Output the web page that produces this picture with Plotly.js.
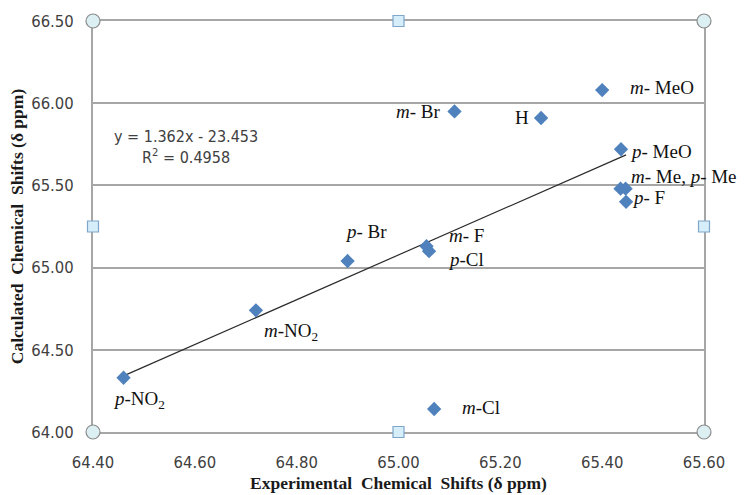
<!DOCTYPE html>
<html>
<head>
<meta charset="utf-8">
<script src="https://cdn.plot.ly/plotly-3.0.1.min.js"></script>
<style>html,body{margin:0;padding:0;background:#fff;}#chart{width:744px;height:495px;}</style>
</head>
<body>
<div id="chart"></div>
<script>
// ---- data ----
const substituents = ['p-NO2','m-NO2','p-Br','m-F','p-Cl','m-Cl','m-Br','H','m-MeO','p-MeO','m-Me','p-Me','p-F'];
const expShift  = [64.46, 64.72, 64.90, 65.055, 65.06, 65.07, 65.11, 65.28, 65.40, 65.437, 65.436, 65.446, 65.447];
const calcShift = [64.33, 64.74, 65.04, 65.13, 65.10, 64.14, 65.95, 65.91, 66.08, 65.72, 65.48, 65.48, 65.40];
const pointLabels = ['<i>p</i>-NO<sub>2</sub>','<i>m</i>-NO<sub>2</sub>','<i>p</i>- Br','<i>m</i>- F','<i>p</i>-Cl','<i>m</i>-Cl',
  '<i>m</i>- Br','H','<i>m</i>- MeO','<i>p</i>- MeO','<i>m</i>- Me, <i>p</i>- Me','','<i>p</i>- F'];
const xTickVals = [64.40, 64.60, 64.80, 65.00, 65.20, 65.40, 65.60];
const xTickText = ['64.40','64.60','64.80','65.00','65.20','65.40','65.60'];
const yTickVals = [64.00, 64.50, 65.00, 65.50, 66.00, 66.50];
const yTickText = ['64.00','64.50','65.00','65.50','66.00','66.50'];
const fitSlope = 1.362;
const fitIntercept = -23.453;
const fitR2 = 0.4958;

// ---- label placement (pixel offsets from each point) ----
const labelPlacement = [
  {anchor:'left',  dx:-13, dy:-22},
  {anchor:'left',  dx:6,   dy:-22},
  {anchor:'left',  dx:-5,  dy:30},
  {anchor:'left',  dx:20,  dy:11},
  {anchor:'left',  dx:17,  dy:-8},
  {anchor:'left',  dx:26,  dy:1},
  {anchor:'right', dx:-13, dy:0},
  {anchor:'right', dx:-10, dy:1},
  {anchor:'left',  dx:26,  dy:3},
  {anchor:'left',  dx:7,   dy:-2},
  {anchor:'left',  dx:8,   dy:12},
  {anchor:'left',  dx:0,   dy:0},
  {anchor:'left',  dx:4,   dy:4}
];

const xMin = Math.min(...expShift), xMax = Math.max(...expShift);
const fitX = [xMin, xMax];
const fitY = fitX.map(v => fitSlope * v + fitIntercept);

const traces = [
  {x: fitX, y: fitY, mode:'lines', type:'scatter', line:{color:'#2b2b2b', width:1.2}, hoverinfo:'skip', showlegend:false},
  {x: expShift, y: calcShift, mode:'markers', type:'scatter', text: substituents,
   marker:{symbol:'diamond', size:11, color:'#4f81bd'}, showlegend:false}
];

const annotations = pointLabels.map((t, i) => ({
  x: expShift[i], y: calcShift[i], xref:'x', yref:'y', text: t, showarrow:false,
  xanchor: labelPlacement[i].anchor, yanchor:'middle',
  xshift: labelPlacement[i].dx, yshift: labelPlacement[i].dy,
  font:{family:'Liberation Serif, Times New Roman, serif', size:19, color:'#111'}
})).filter(a => a.text !== '');

annotations.push({
  xref:'paper', yref:'paper', x:0.1514, y:0.693, xanchor:'center', yanchor:'middle', align:'center',
  showarrow:false,
  text: 'y = ' + fitSlope.toFixed(3) + 'x - ' + Math.abs(fitIntercept).toFixed(3) + '<br>R<sup>2</sup> = ' + fitR2.toFixed(4),
  font:{family:'DejaVu Sans Condensed, DejaVu Sans, sans-serif', size:16, color:'#404040'}
});

// selection-style handles on frame
const shapes = [];
const corners = [[0,0],[1,0],[0,1],[1,1]];
const mids = [[0.5,0],[0.5,1],[0,0.5],[1,0.5]];
corners.forEach(([px,py]) => shapes.push({type:'circle', xref:'paper', yref:'paper', xsizemode:'pixel', ysizemode:'pixel',
  xanchor:px, yanchor:py, x0:-7, x1:7, y0:-7, y1:7, fillcolor:'#dcf0f4', line:{color:'#8c8c8c', width:1.2}}));
mids.forEach(([px,py]) => shapes.push({type:'rect', xref:'paper', yref:'paper', xsizemode:'pixel', ysizemode:'pixel',
  xanchor:px, yanchor:py, x0:-5.5, x1:5.5, y0:-5.5, y1:5.5, fillcolor:'#d6eefa', line:{color:'#7fa6c8', width:1.2}}));

const layout = {
  width:744, height:495,
  margin:{l:93, r:40, t:21, b:63},
  paper_bgcolor:'#fff', plot_bgcolor:'#fff',
  showlegend:false,
  xaxis:{range:[64.40,65.60], tickvals:xTickVals, ticktext:xTickText, showgrid:false, zeroline:false,
    showline:true, mirror:true, linecolor:'#a6a6a6', linewidth:2, ticks:'', ticklabelstandoff:14,
    tickfont:{family:'DejaVu Sans Condensed, DejaVu Sans, sans-serif', size:16.5, color:'#404040'},
    title:{text:'Experimental  Chemical  Shifts (δ ppm)', standoff:6,
      font:{family:'Liberation Serif, Times New Roman, serif', size:17.5, color:'#1a1a1a', weight:'bold'}}},
  yaxis:{range:[64.00,66.50], tickvals:yTickVals, ticktext:yTickText, showgrid:true, gridcolor:'#a6a6a6', gridwidth:2,
    zeroline:false, showline:true, mirror:true, linecolor:'#a6a6a6', linewidth:2, ticks:'', ticklabelstandoff:14,
    tickfont:{family:'DejaVu Sans Condensed, DejaVu Sans, sans-serif', size:16.5, color:'#404040'},
    title:{text:'Calculated  Chemical  Shifts (δ ppm)', standoff:3,
      font:{family:'Liberation Serif, Times New Roman, serif', size:17.5, color:'#1a1a1a', weight:'bold'}}},
  annotations: annotations,
  shapes: shapes
};

Plotly.newPlot('chart', traces, layout, {displayModeBar:false, staticPlot:true});
</script>
</body>
</html>
